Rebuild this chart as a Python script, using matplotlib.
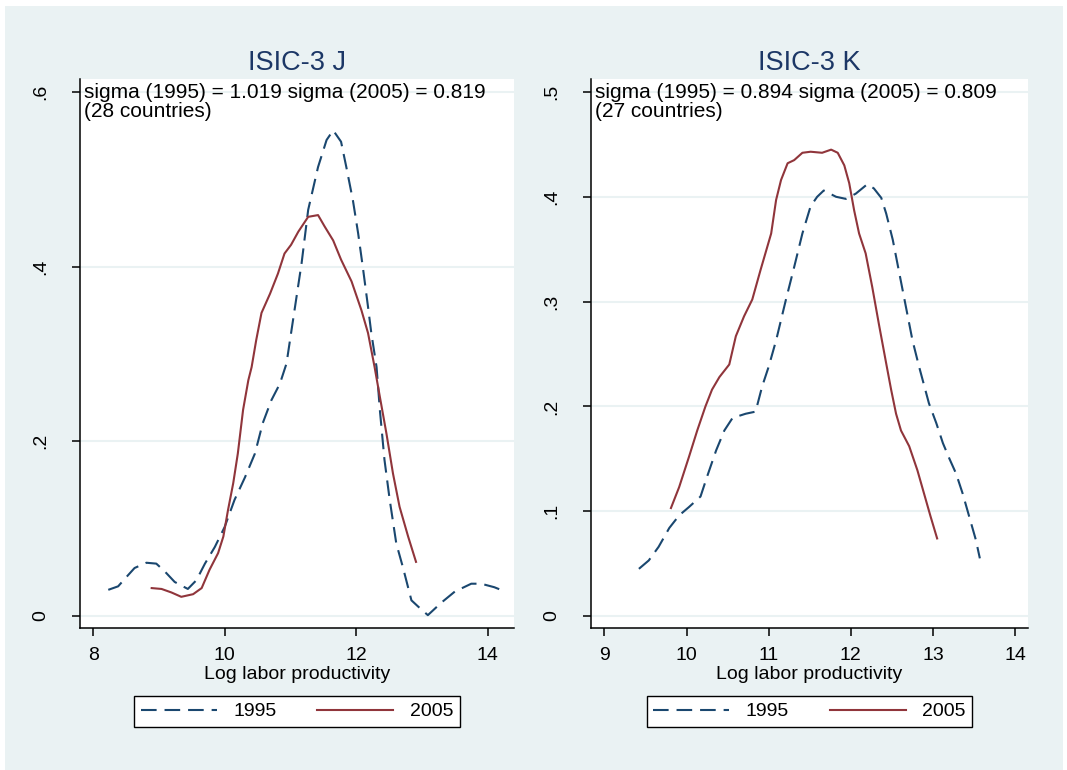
import matplotlib
matplotlib.use("Agg")
import matplotlib.pyplot as plt
from matplotlib.patches import Rectangle

plt.rcParams['font.family'] = ['Liberation Sans', 'DejaVu Sans']

# ISIC-3 J
x95_j = [8.23, 8.38, 8.51, 8.63, 8.81, 8.96, 9.09, 9.24, 9.44, 9.57, 9.70, 9.85, 10.00, 10.15,
         10.31, 10.46, 10.58, 10.71, 10.84, 10.94, 11.07, 11.17, 11.27, 11.42, 11.55, 11.65,
         11.77, 11.85, 11.95, 12.03, 12.10, 12.18, 12.23, 12.31, 12.36, 12.43, 12.51, 12.61,
         12.71, 12.84, 12.94, 13.09, 13.29, 13.50, 13.75, 13.90, 14.10, 14.20]
y95_j = [.030, .034, .045, .055, .061, .060, .051, .039, .031, .041, .060, .079, .102, .133,
         .159, .186, .221, .247, .266, .289, .354, .404, .465, .514, .545, .556,
         .543, .514, .476, .438, .400, .354, .324, .285, .236, .179, .133, .083,
         .056, .018, .011, .001, .015, .028, .037, .037, .033, .030]
x05_j = [8.89, 9.04, 9.19, 9.34, 9.52, 9.65, 9.77, 9.90, 9.98, 10.05, 10.13, 10.20, 10.28, 10.36,
         10.41, 10.48, 10.56, 10.69, 10.81, 10.91, 11.01, 11.12, 11.27, 11.42, 11.52, 11.65,
         11.77, 11.93, 12.08, 12.18, 12.28, 12.36, 12.46, 12.56, 12.66, 12.79, 12.91]
y05_j = [.032, .031, .027, .022, .025, .032, .053, .072, .091, .121, .152, .186, .236, .270,
         .285, .316, .347, .369, .392, .415, .425, .440, .457, .459, .446, .430,
         .408, .383, .350, .324, .285, .251, .209, .163, .125, .091, .062]

# ISIC-3 K
x95_k = [9.42, 9.54, 9.66, 9.79, 9.91, 10.03, 10.17, 10.25, 10.36, 10.46, 10.56, 10.72, 10.84,
         10.92, 11.00, 11.09, 11.21, 11.31, 11.41, 11.51, 11.59, 11.67, 11.82, 11.94, 12.06,
         12.20, 12.28, 12.37, 12.43, 12.51, 12.59, 12.67, 12.75, 12.83, 12.95, 13.04, 13.12,
         13.20, 13.28, 13.36, 13.44, 13.52, 13.57]
y95_k = [.045, .053, .066, .084, .096, .104, .114, .133, .158, .177, .189, .193, .195,
         .219, .238, .263, .302, .333, .365, .391, .400, .406, .400, .398, .403,
         .412, .408, .399, .384, .359, .327, .295, .263, .238, .203, .184, .165,
         .150, .136, .117, .095, .073, .055]
x05_k = [9.81, 9.91, 10.03, 10.13, 10.23, 10.31, 10.40, 10.48, 10.52, 10.60, 10.70, 10.80, 10.90,
         11.03, 11.09, 11.15, 11.23, 11.31, 11.41, 11.51, 11.65, 11.76, 11.84, 11.92, 11.98,
         12.04, 12.10, 12.18, 12.26, 12.34, 12.43, 12.49, 12.55, 12.61, 12.71, 12.81, 12.89,
         12.97, 13.05]
y05_k = [.103, .123, .152, .177, .200, .216, .228, .236, .240, .267, .286, .302, .330,
         .365, .397, .416, .432, .435, .442, .443, .442, .445, .442, .430, .413,
         .387, .365, .346, .314, .279, .241, .216, .193, .177, .162, .139, .117,
         .095, .074]

titles = ["ISIC-3 J", "ISIC-3 K"]
notes = ["sigma (1995) = 1.019 sigma (2005) = 0.819\n(28 countries)",
         "sigma (1995) = 0.894 sigma (2005) = 0.809\n(27 countries)"]
yticks_j = [0, .2, .4, .6]
ylabels_j = ["0", ".2", ".4", ".6"]
xticks_j = [8, 10, 12, 14]
yticks_k = [0, .1, .2, .3, .4, .5]
ylabels_k = ["0", ".1", ".2", ".3", ".4", ".5"]
xticks_k = [9, 10, 11, 12, 13, 14]

bg = '#EAF2F3'
navy = '#1A476F'
maroon = '#90353B'

W, H = 1067, 770
fig = plt.figure(figsize=(W / 100, H / 100), dpi=100, facecolor='white')
fig.patches.append(Rectangle((5 / W, 0), 1058 / W, 764 / H, transform=fig.transFigure,
                             facecolor=bg, edgecolor='none', zorder=-10))

ax1 = fig.add_axes([80 / W, (H - 628) / H, 434 / W, 549 / H])
ax2 = fig.add_axes([591 / W, (H - 628) / H, 437 / W, 549 / H])

panels = [
    (ax1, x95_j, y95_j, x05_j, y05_j, xticks_j, yticks_j, ylabels_j, (7.80, 14.40), (-0.0137, 0.6148)),
    (ax2, x95_k, y95_k, x05_k, y05_k, xticks_k, yticks_k, ylabels_k, (8.837, 14.156), (-0.01145, 0.5124)),
]

for i, (ax, xa, ya, xb, yb, xt, yt, yl, xlim, ylim) in enumerate(panels):
    ax.set_facecolor('white')
    ax.plot(xa, ya, color=navy, lw=1.5, dashes=(7.5, 3.8), label='1995')
    ax.plot(xb, yb, color=maroon, lw=1.5, label='2005')
    ax.set_xlim(*xlim)
    ax.set_ylim(*ylim)
    ax.set_xticks(xt)
    ax.set_yticks(yt)
    ax.set_yticklabels(yl, rotation=90, va='center')
    ax.tick_params(axis='both', labelsize=14, length=6, width=1.1, color='black')
    ax.tick_params(axis='y', pad=16)
    ax.tick_params(axis='x', pad=8)
    ax.grid(axis='y', color=bg, lw=1.5)
    ax.set_axisbelow(True)
    for s in ['top', 'right']:
        ax.spines[s].set_visible(False)
    for s in ['left', 'bottom']:
        ax.spines[s].set_linewidth(1.1)
    ax.set_xlabel("Log labor productivity", fontsize=14, labelpad=1)
    ax.set_title(titles[i], fontsize=19.5, color='#1C3766', pad=6.5)
    ax.text(0.009, 0.993, notes[i], transform=ax.transAxes, fontsize=15,
            va='top', ha='left', linespacing=1.0)
    pos = ax.get_position()
    leg = ax.legend(loc='center', bbox_to_anchor=(pos.x0 + pos.width / 2, (H - 711.5) / H),
                    bbox_transform=fig.transFigure, ncol=2, fontsize=14,
                    handlelength=3.9, handletextpad=0.85, columnspacing=2.1,
                    fancybox=False, edgecolor='black', framealpha=1, borderpad=0.35)
    leg.get_frame().set_linewidth(1.0)

fig.savefig('out.png', dpi=100, facecolor='white')
